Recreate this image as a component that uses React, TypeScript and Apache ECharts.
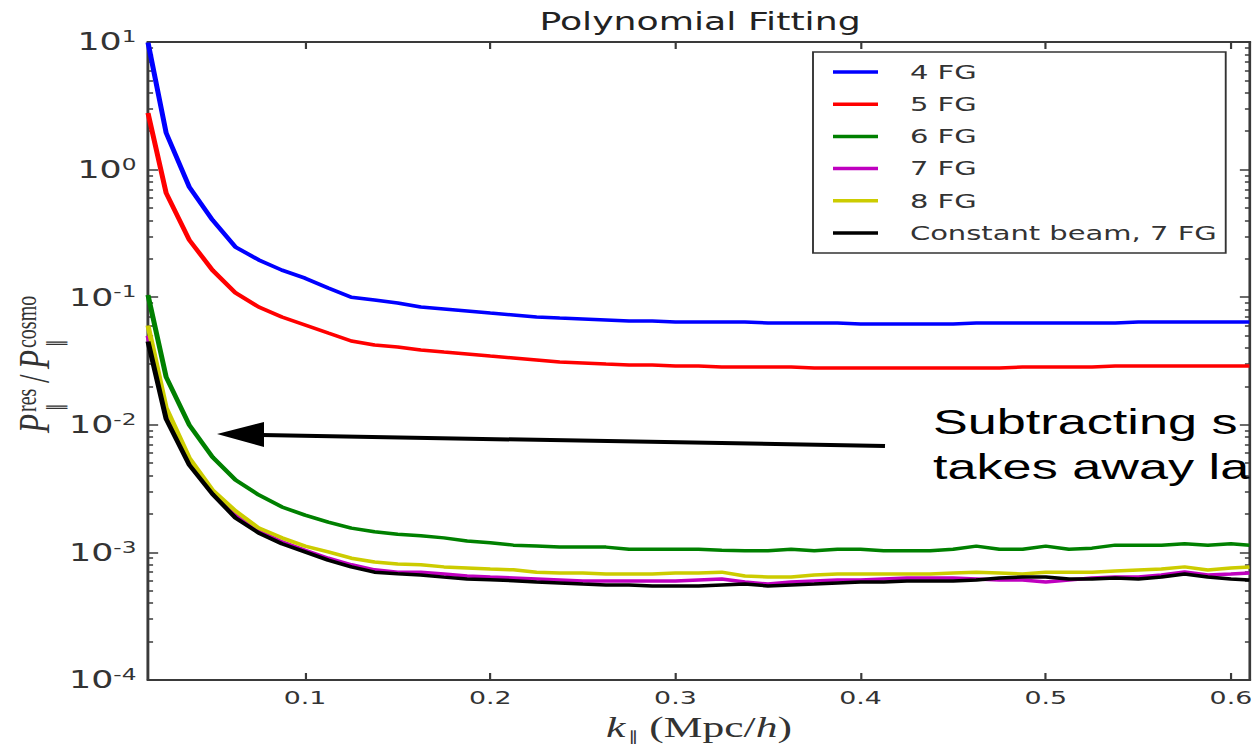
import React, { useEffect, useRef } from "react";
import * as echarts from "echarts";

// horizontal stretch of the reference picture
const SX = 1.45;
const W = 1252 / SX;
const H = 747;
const px = (x: number) => x / SX;

const K = [
  0.0152, 0.025, 0.0375, 0.05, 0.0625, 0.075, 0.0875, 0.1, 0.1125, 0.125,
  0.1375, 0.15, 0.1625, 0.175, 0.1875, 0.2, 0.2125, 0.225, 0.2375, 0.25,
  0.2625, 0.275, 0.2875, 0.3, 0.3125, 0.325, 0.3375, 0.35, 0.3625, 0.375,
  0.3875, 0.4, 0.4125, 0.425, 0.4375, 0.45, 0.4625, 0.475, 0.4875, 0.5,
  0.5125, 0.525, 0.5375, 0.55, 0.5625, 0.575, 0.5875, 0.6, 0.61,
];

const FG4 = [
  9.9, 1.94, 0.731, 0.403, 0.247, 0.196, 0.163, 0.141, 0.118, 0.1,
  0.0951, 0.0901, 0.0838, 0.0809, 0.078, 0.0752, 0.0726, 0.07, 0.0687, 0.0675,
  0.0663, 0.0651, 0.0651, 0.064, 0.064, 0.064, 0.064, 0.0628, 0.0628, 0.0628,
  0.0628, 0.0617, 0.0617, 0.0617, 0.0617, 0.0617, 0.0628, 0.0628, 0.0628, 0.0628,
  0.0628, 0.0628, 0.0628, 0.064, 0.064, 0.064, 0.064, 0.064, 0.064,
];
const FG5 = [
  2.78, 0.656, 0.281, 0.163, 0.108, 0.0838, 0.07, 0.0606, 0.0524, 0.0454,
  0.0422, 0.0407, 0.0386, 0.0372, 0.0359, 0.0346, 0.0334, 0.0322, 0.031, 0.0305,
  0.0299, 0.0294, 0.0294, 0.0289, 0.0289, 0.0284, 0.0284, 0.0284, 0.0284, 0.0279,
  0.0279, 0.0279, 0.0279, 0.0279, 0.0279, 0.0279, 0.0279, 0.0279, 0.0284, 0.0284,
  0.0284, 0.0284, 0.0289, 0.0289, 0.0289, 0.0289, 0.0289, 0.0289, 0.0289,
];
const FG6 = [
  0.104, 0.0237, 0.00996, 0.0056, 0.00369, 0.00282, 0.00227, 0.00196, 0.00173, 0.00155,
  0.00145, 0.00139, 0.00135, 0.0013, 0.00123, 0.00119, 0.00114, 0.00112, 0.0011, 0.0011,
  0.0011, 0.00106, 0.00106, 0.00106, 0.00106, 0.00104, 0.00103, 0.00103, 0.00106, 0.00103,
  0.00106, 0.00106, 0.00103, 0.00103, 0.00103, 0.00106, 0.00112, 0.00106, 0.00106, 0.00112,
  0.00106, 0.00108, 0.00114, 0.00114, 0.00114, 0.00117, 0.00114, 0.00117, 0.00114,
];
const FG7 = [
  0.05, 0.0117, 0.00502, 0.00297, 0.00196, 0.00147, 0.00121, 0.00104, 0.0009, 0.0008,
  0.00073, 0.0007, 0.0007, 0.000677, 0.000653, 0.000641, 0.00063, 0.000619, 0.000608, 0.000597,
  0.000597, 0.000597, 0.000597, 0.000597, 0.000608, 0.000619, 0.000586, 0.000565, 0.000586, 0.000597,
  0.000608, 0.000608, 0.000619, 0.00063, 0.00063, 0.00063, 0.000619, 0.000608, 0.000608, 0.000586,
  0.000608, 0.00063, 0.000641, 0.000641, 0.000665, 0.000702, 0.000665, 0.000677, 0.00069,
];
const FG8 = [
  0.06, 0.0136, 0.0055, 0.00308, 0.00211, 0.00155, 0.0013, 0.00112, 0.00101, 0.0009,
  0.00084, 0.00081, 0.0008, 0.00077, 0.000755, 0.00074, 0.00073, 0.0007, 0.00069, 0.00069,
  0.000677, 0.000677, 0.000677, 0.00069, 0.00069, 0.0007, 0.000653, 0.000641, 0.000641, 0.000665,
  0.000677, 0.000677, 0.000677, 0.000677, 0.000677, 0.00069, 0.0007, 0.00069, 0.000677, 0.0007,
  0.0007, 0.0007, 0.000715, 0.000728, 0.00074, 0.00077, 0.000728, 0.000755, 0.00077,
];
const CONST7 = [
  0.045, 0.0111, 0.00484, 0.00287, 0.00186, 0.00142, 0.00117, 0.00101, 0.00087, 0.00077,
  0.0007, 0.00068, 0.000665, 0.00064, 0.00062, 0.00061, 0.0006, 0.000586, 0.000576, 0.000565,
  0.000556, 0.000556, 0.000546, 0.000546, 0.000546, 0.000556, 0.000565, 0.000546, 0.000556, 0.000565,
  0.000576, 0.000586, 0.000586, 0.000597, 0.000597, 0.000597, 0.000608, 0.00063, 0.000641, 0.000641,
  0.000619, 0.000619, 0.00063, 0.000619, 0.000641, 0.000677, 0.000641, 0.000619, 0.000608,
];

const SERIES_NAMES = ["4 FG", "5 FG", "6 FG", "7 FG", "8 FG", "Constant beam, 7 FG"];
const SERIES_VALUES = [FG4, FG5, FG6, FG7, FG8, CONST7];
const SERIES_COLORS = ["#0000ff", "#ff0000", "#008000", "#bf00bf", "#cccc00", "#000000"];

const X_MIN = 0.0152;
const X_MAX = 0.6103;
const X_TICKS = [0.1, 0.2, 0.3, 0.4, 0.5, 0.6];
const Y_MIN = 1e-4;
const Y_MAX = 10;
const Y_TICKS = [1e-4, 1e-3, 1e-2, 1e-1, 1, 10];
const Y_MINOR: number[] = [];
for (let e = -4; e <= 0; e++) {
  for (let m = 2; m <= 9; m++) Y_MINOR.push(Number((m * Math.pow(10, e)).toPrecision(3)));
}

const ANNOTATION = ["Subtracting s", "takes away la"];

const AXIS_COLOR = "#3a3a3a";
const LABEL_COLOR = "#333";
const SANS = "DejaVu Sans";
const SERIF = "Liberation Serif";

function yLabel(v: number) {
  const e = Math.round(Math.log10(v));
  return `{b|10}{s|${e}}`;
}

export default function App() {
  const ref = useRef<HTMLDivElement>(null);
  useEffect(() => {
    document.body.style.margin = "0";
    const chart = echarts.init(ref.current!, null, { renderer: "svg", width: W, height: H });

    const lineAxisStyle = { color: AXIS_COLOR, width: 2 };
    const tickStyle = { color: AXIS_COLOR, width: 1.5 };

    const option: any = {
      animation: false,
      backgroundColor: "#ffffff",
      grid: {
        left: px(148),
        right: px(2),
        top: 42,
        bottom: 67,
        containLabel: false,
        outerBoundsMode: "none",
      },
      legend: {
        orient: "vertical",
        left: px(813),
        top: 52,
        padding: [10, 6, 10, px(20)],
        backgroundColor: "#fff",
        borderColor: "#333",
        borderWidth: 1.3,
        borderRadius: 0,
        icon: "rect",
        itemWidth: px(45),
        itemHeight: 3.5,
        itemGap: 12.2,
        data: SERIES_NAMES,
        textStyle: {
          fontFamily: SANS,
          fontSize: 20,
          lineHeight: 20,
          color: "#333",
          padding: [0, 0, 0, 17],
        },
      },
      xAxis: [
        {
          type: "value",
          min: X_MIN,
          max: X_MAX,
          position: "bottom",
          axisLine: { show: true, lineStyle: lineAxisStyle },
          axisTick: { show: true, inside: true, length: 7, customValues: X_TICKS, lineStyle: tickStyle },
          axisLabel: {
            customValues: X_TICKS,
            formatter: (v: number) => v.toFixed(1),
            fontFamily: SANS,
            fontSize: 18.5,
            color: LABEL_COLOR,
            margin: 8,
          },
          splitLine: { show: false },
          name: "{i|k}{sub|∥}{r| (Mpc/}{i|h}{r|)}",
          nameLocation: "middle",
          nameGap: 15,
          nameTextStyle: {
            color: "#333",
            rich: {
              i: { fontFamily: SERIF, fontStyle: "italic", fontSize: 30, color: "#333", lineHeight: 32 },
              r: { fontFamily: SERIF, fontSize: 30, color: "#333", lineHeight: 32 },
              sub: { fontFamily: SANS, fontSize: 14, color: "#333", verticalAlign: "bottom", lineHeight: 32, padding: [0, 0, 0, 2] },
            },
          },
        },
        {
          type: "value",
          min: X_MIN,
          max: X_MAX,
          position: "top",
          axisLine: { show: true, lineStyle: lineAxisStyle },
          axisTick: { show: true, inside: true, length: 7, customValues: X_TICKS, lineStyle: tickStyle },
          axisLabel: { show: false },
          splitLine: { show: false },
        },
      ],
      yAxis: [
        {
          type: "log",
          logBase: 10,
          min: Y_MIN,
          max: Y_MAX,
          position: "left",
          axisLine: { show: true, lineStyle: lineAxisStyle },
          axisTick: { show: true, inside: true, length: 7, customValues: Y_TICKS, lineStyle: tickStyle },
          axisLabel: {
            customValues: Y_TICKS,
            formatter: yLabel,
            margin: 8,
            rich: {
              b: { fontFamily: SANS, fontSize: 24, color: LABEL_COLOR, lineHeight: 26 },
              s: { fontFamily: SANS, fontSize: 16, color: LABEL_COLOR, verticalAlign: "top", lineHeight: 16 },
            },
          },
          splitLine: { show: false },
        },
        {
          type: "log",
          logBase: 10,
          min: Y_MIN,
          max: Y_MAX,
          position: "left",
          axisLine: { show: false },
          axisTick: { show: true, inside: true, length: 3.5, customValues: Y_MINOR, lineStyle: tickStyle },
          axisLabel: { show: false },
          splitLine: { show: false },
        },
        {
          type: "log",
          logBase: 10,
          min: Y_MIN,
          max: Y_MAX,
          position: "right",
          axisLine: { show: true, lineStyle: lineAxisStyle },
          axisTick: { show: true, inside: true, length: 7, customValues: Y_TICKS, lineStyle: tickStyle },
          axisLabel: { show: false },
          splitLine: { show: false },
        },
        {
          type: "log",
          logBase: 10,
          min: Y_MIN,
          max: Y_MAX,
          position: "right",
          axisLine: { show: false },
          axisTick: { show: true, inside: true, length: 3.5, customValues: Y_MINOR, lineStyle: tickStyle },
          axisLabel: { show: false },
          splitLine: { show: false },
        },
      ],
      series: SERIES_NAMES.map((name, i) => ({
        name,
        type: "line",
        xAxisIndex: 0,
        yAxisIndex: 0,
        data: K.map((k, j) => [k, SERIES_VALUES[i][j]]),
        symbol: "none",
        showSymbol: false,
        color: SERIES_COLORS[i],
        itemStyle: { color: SERIES_COLORS[i] },
        lineStyle: { color: SERIES_COLORS[i], width: 3.5 },
        clip: true,
        z: 2 + i,
      })),
      graphic: [
        {
          type: "text",
          x: px(700),
          y: 21,
          style: {
            text: "Polynomial Fitting",
            fontFamily: SANS,
            fontSize: 25,
            fill: "#222",
            align: "center",
            verticalAlign: "middle",
          },
        },
        {
          type: "group",
          x: px(48),
          y: 433,
          rotation: Math.PI / 2,
          children: [
            { type: "text", x: 0, y: -10, style: { text: "P", fontFamily: SERIF, fontStyle: "italic", fontSize: 31, fill: "#333", align: "left", verticalAlign: "middle" } },
            { type: "text", x: 21, y: -15, style: { text: "res", fontFamily: SERIF, fontSize: 20, fill: "#333", align: "left", verticalAlign: "middle" } },
            { type: "text", x: 22, y: 5, style: { text: "∥", fontFamily: SANS, fontSize: 15, fill: "#333", align: "left", verticalAlign: "middle" } },
            { type: "text", x: 50, y: -10, style: { text: "/", fontFamily: SERIF, fontSize: 31, fill: "#333", align: "left", verticalAlign: "middle" } },
            { type: "text", x: 64, y: -10, style: { text: "P", fontFamily: SERIF, fontStyle: "italic", fontSize: 31, fill: "#333", align: "left", verticalAlign: "middle" } },
            { type: "text", x: 85, y: -15, style: { text: "cosmo", fontFamily: SERIF, fontSize: 20, fill: "#333", align: "left", verticalAlign: "middle" } },
            { type: "text", x: 86, y: 5, style: { text: "∥", fontFamily: SANS, fontSize: 15, fill: "#333", align: "left", verticalAlign: "middle" } },
          ],
        },
        {
          type: "line",
          z: 10,
          shape: { x1: px(262), y1: 435, x2: px(885), y2: 446 },
          style: { stroke: "#000", lineWidth: 4 },
        },
        {
          type: "polygon",
          z: 10,
          shape: { points: [[px(217), 434], [px(264), 422], [px(264), 447]] },
          style: { fill: "#000" },
        },
        {
          type: "text",
          z: 10,
          x: px(933),
          y: 422,
          style: { text: ANNOTATION[0], fontFamily: "Liberation Sans", fontSize: 36, fill: "#000", align: "left", verticalAlign: "middle" },
        },
        {
          type: "text",
          z: 10,
          x: px(933),
          y: 467,
          style: { text: ANNOTATION[1], fontFamily: "Liberation Sans", fontSize: 36, fill: "#000", align: "left", verticalAlign: "middle" },
        },
      ],
    };

    chart.setOption(option);
    return () => chart.dispose();
  }, []);

  return (
    <div
      ref={ref}
      style={{ width: W, height: H, transform: `scaleX(${SX})`, transformOrigin: "0 0" }}
    />
  );
}
